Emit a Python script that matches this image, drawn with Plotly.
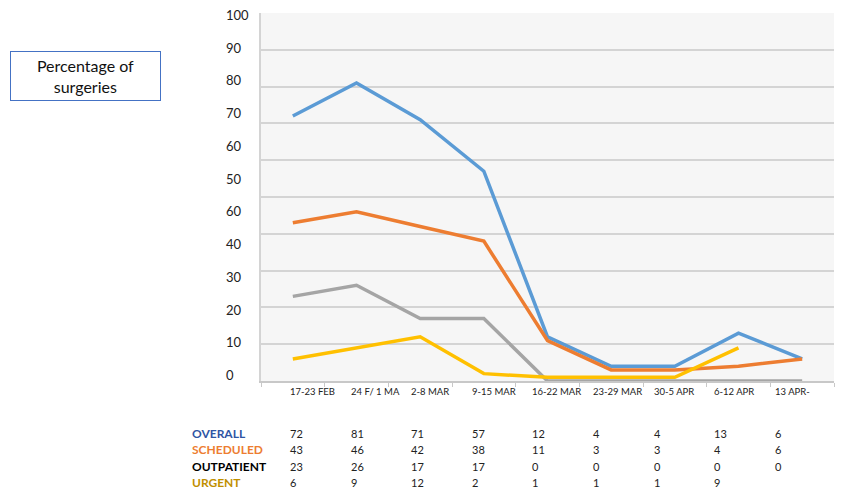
import plotly.graph_objects as go

# ---------------- data ----------------
weeks = ["17-23 FEB", "24 F/ 1 MA", "2-8 MAR", "9-15 MAR", "16-22 MAR",
         "23-29 MAR", "30-5 APR", "6-12 APR", "13 APR-"]
overall = [72, 81, 71, 57, 12, 4, 4, 13, 6]
scheduled = [43, 46, 42, 38, 11, 3, 3, 4, 6]
outpatient = [23, 26, 17, 17, 0, 0, 0, 0, 0]
urgent = [6, 9, 12, 2, 1, 1, 1, 9, None]
series_names = ["OVERALL", "SCHEDULED", "OUTPATIENT", "URGENT"]
y_tick_labels = ["100", "90", "80", "70", "60", "50", "60", "40", "30", "20", "10", "0"]
box_title = "Percentage of<br>surgeries"

# ---------------- styles ----------------
line_colors = ["#5b9bd5", "#ed7d31", "#a5a5a5", "#ffc000"]
label_colors = ["#2f55a4", "#ed7d31", "#000000", "#bf9000"]
FONT = "Lato, Open Sans, sans-serif"

OFF = 8  # page body margin
W, H = 844 - OFF, 489 - OFF
L, R, T, B = 261 - OFF, 10, 13 - OFF, 489 - 381
PW, PH = W - L - R, H - T - B


def px_x(x):
    return (x - OFF - L) / PW


def px_y(y):
    return (H - B - (y - OFF)) / PH


fig = go.Figure()
all_series = [overall, scheduled, outpatient, urgent]
for name, vals, col in zip(series_names, all_series, line_colors):
    fig.add_trace(go.Scatter(x=weeks, y=vals, mode="lines", name=name,
                             line=dict(color=col, width=3.5),
                             connectgaps=False, showlegend=False))

ann = []
# y-axis labels overlay (as in the original picture)
n = len(y_tick_labels)
top_px, bot_px = 15, 375
for i, lab in enumerate(y_tick_labels):
    ypx = top_px + (bot_px - top_px) * i / (n - 1)
    ann.append(dict(text=lab, x=px_x(224), y=px_y(ypx), xref="paper", yref="paper",
                    xanchor="left", yanchor="middle", showarrow=False,
                    font=dict(size=13, color="#222", family=FONT)))

# column layout shared by week labels and table
col_x0, col_step = 288, 60.6
week_label_y = 391
for c, wk in enumerate(weeks):
    ann.append(dict(text=wk, x=px_x(col_x0 + col_step * c), y=px_y(week_label_y),
                    xref="paper", yref="paper", xanchor="left", yanchor="middle",
                    showarrow=False, font=dict(size=9.5, color="#222", family=FONT)))

# data table below chart
row_px = [433, 449.5, 466, 482]
label_x_px = 190
for r, (name, vals, lc) in enumerate(zip(series_names, all_series, label_colors)):
    ann.append(dict(text="<b>%s</b>" % name, x=px_x(label_x_px), y=px_y(row_px[r]),
                    xref="paper", yref="paper", xanchor="left", yanchor="middle",
                    showarrow=False, font=dict(size=12, color=lc, family=FONT)))
    for c, v in enumerate(vals):
        if v is None:
            continue
        ann.append(dict(text=str(v), x=px_x(col_x0 + col_step * c), y=px_y(row_px[r]),
                        xref="paper", yref="paper", xanchor="left", yanchor="middle",
                        showarrow=False, font=dict(size=11, color="#222", family=FONT)))

# boxed title
ann.append(dict(text=box_title, x=px_x(10), y=px_y(51), xref="paper", yref="paper",
                xanchor="left", yanchor="top", showarrow=False,
                width=147, height=46, bordercolor="#4472c4", borderwidth=1, borderpad=1,
                bgcolor="white", align="center",
                font=dict(size=16, color="#111", family=FONT)))

fig.update_layout(
    width=W, height=H, margin=dict(l=L, r=R, t=T, b=B),
    paper_bgcolor="white", plot_bgcolor="#f6f6f6",
    annotations=ann,
    xaxis=dict(type="category", showgrid=False, showline=True, linecolor="#c8c8c8",
               linewidth=2, ticks="outside", tickson="boundaries", ticklen=4,
               tickcolor="#c8c8c8", showticklabels=False,
               range=[-0.5, len(weeks) - 0.5]),
    yaxis=dict(range=[0, 100], tickvals=list(range(0, 101, 10)), showticklabels=False,
               showgrid=True, gridcolor="#d4d4d4", gridwidth=2, zeroline=False,
               showline=True, linecolor="#d4d4d4", linewidth=2),
)

fig.write_html("out.html")
